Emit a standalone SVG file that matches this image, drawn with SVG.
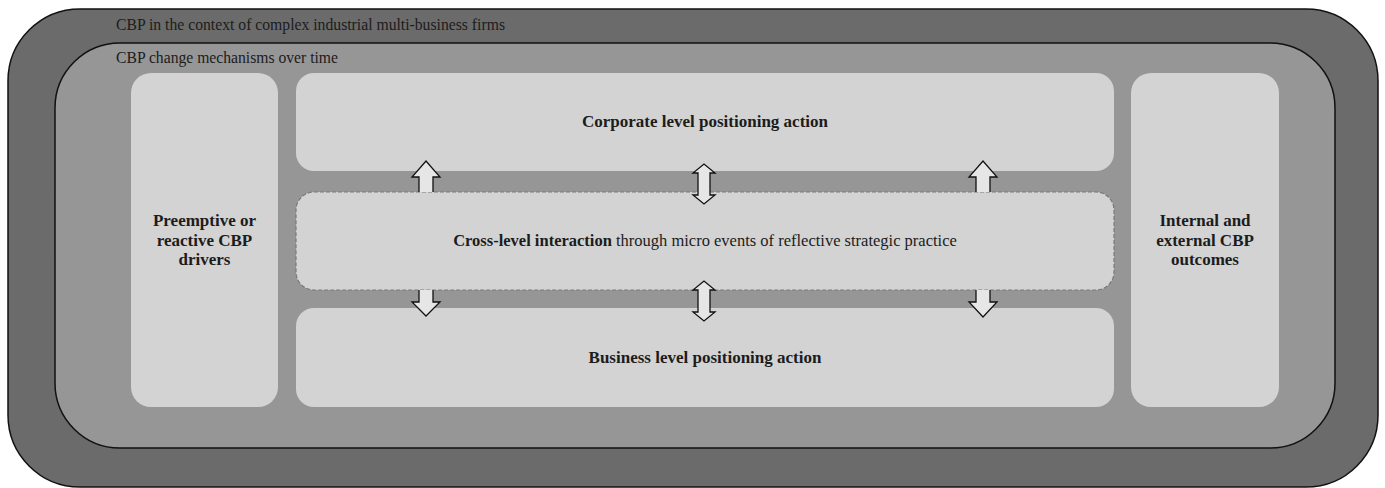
<svg xmlns="http://www.w3.org/2000/svg" width="1385" height="488" viewBox="0 0 1385 488">
  <style>
    .frame-outer { fill: #6b6b6b; stroke: #111; stroke-width: 1.5; }
    .frame-inner { fill: #969696; stroke: #111; stroke-width: 1.5; }
    .box { fill: #d3d3d3; }
    .box-dashed { fill: #d3d3d3; stroke: #7a7a7a; stroke-width: 1.2; stroke-dasharray: 4 2; }
    .arrow { fill: #e6e6e6; stroke: #111; stroke-width: 1.3; stroke-linejoin: miter; }
    .lbl { font-family: "Liberation Serif", "Times New Roman", serif; fill: #1c1c1c; }
    .frame-lbl { font-size: 15.7px; }
    .title { font-size: 17px; font-weight: bold; text-anchor: middle; }
    .body { font-size: 16.5px; text-anchor: middle; }
  </style>

  <!-- outer context frame -->
  <g id="context">
    <rect class="frame-outer" x="8" y="9" width="1370" height="478" rx="72" ry="72"/>
    <text class="lbl frame-lbl" x="116" y="30" textLength="389" lengthAdjust="spacingAndGlyphs">CBP in the context of complex industrial multi-business firms</text>
  </g>

  <!-- change mechanisms frame -->
  <g id="mechanisms">
    <rect class="frame-inner" x="55" y="43" width="1280" height="405" rx="65" ry="65"/>
    <text class="lbl frame-lbl" x="116" y="63" textLength="222" lengthAdjust="spacingAndGlyphs">CBP change mechanisms over time</text>
  </g>

  <g id="drivers">
    <rect class="box" x="131" y="73" width="147" height="334" rx="20" ry="20"/>
    <text class="lbl title" x="204.5" y="226">Preemptive or</text>
    <text class="lbl title" x="204.5" y="246">reactive CBP</text>
    <text class="lbl title" x="204.5" y="265">drivers</text>
  </g>

  <g id="corporate">
    <rect class="box" x="296" y="73" width="818" height="98" rx="18" ry="18"/>
    <text class="lbl title" x="705" y="127">Corporate level positioning action</text>
  </g>

  <g id="cross-level">
    <rect class="box-dashed" x="296" y="192" width="818" height="98" rx="18" ry="18"/>
    <text class="lbl body" x="705" y="246"><tspan font-weight="bold">Cross-level interaction</tspan> through micro events of reflective strategic practice</text>
  </g>

  <g id="business">
    <rect class="box" x="296" y="308" width="818" height="99" rx="18" ry="18"/>
    <text class="lbl title" x="705" y="363">Business level positioning action</text>
  </g>

  <g id="outcomes">
    <rect class="box" x="1131" y="73" width="148" height="334" rx="20" ry="20"/>
    <text class="lbl title" x="1205" y="226">Internal and</text>
    <text class="lbl title" x="1205" y="246">external CBP</text>
    <text class="lbl title" x="1205" y="265">outcomes</text>
  </g>

  <!-- block arrows between levels -->
  <g id="connectors">
    <!-- upward: cross-level to corporate -->
    <path class="arrow" d="M419,192 V177 H412 L426,161 L440,177 H433 V192"/>
    <path class="arrow" d="M976,192 V177 H969 L983,161 L997,177 H990 V192"/>
    <!-- downward: cross-level to business -->
    <path class="arrow" d="M419,290 V302 H412 L426,316 L440,302 H433 V290"/>
    <path class="arrow" d="M976,290 V302 H969 L983,317 L997,302 H990 V290"/>
    <!-- two-way: corporate and cross-level -->
    <path class="arrow" d="M698,173 H693 L704,164 L715,173 H710 V195 H715 L704,204 L693,195 H698 Z"/>
    <!-- two-way: cross-level and business -->
    <path class="arrow" d="M698,290 H693 L704,281 L715,290 H710 V312 H715 L704,321 L693,312 H698 Z"/>
  </g>
</svg>
